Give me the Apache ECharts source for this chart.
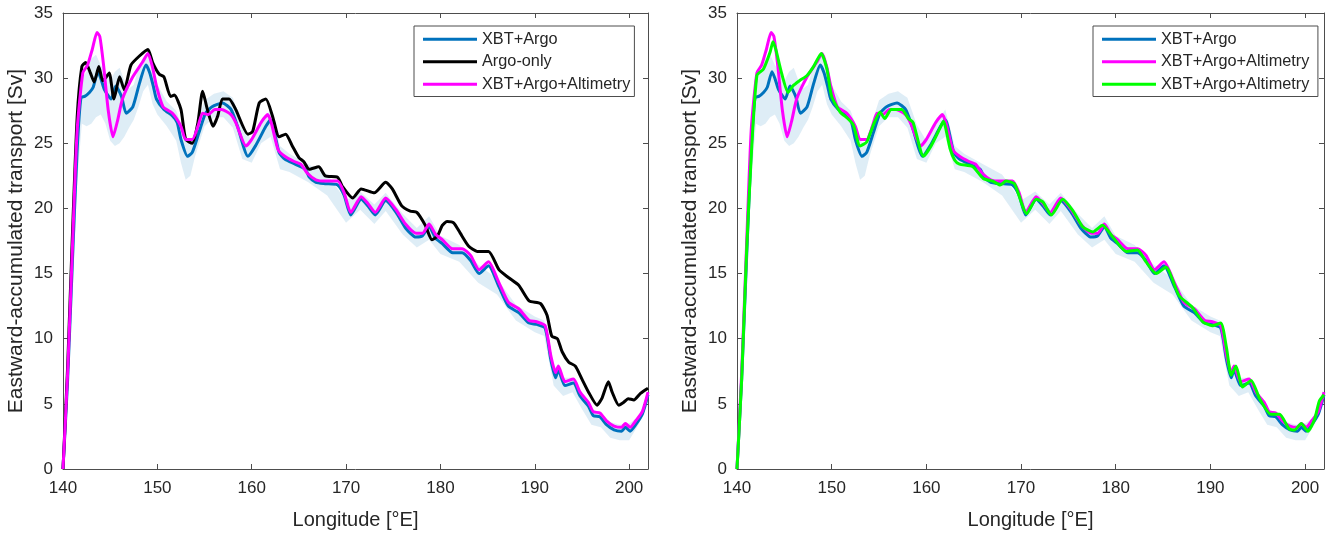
<!DOCTYPE html>
<html>
<head>
<meta charset="utf-8">
<script src="https://cdn.jsdelivr.net/npm/echarts@6/dist/echarts.min.js"></script>
<style>
html,body{margin:0;padding:0;background:#fff;}
#chart{width:1331px;height:535px;}
</style>
</head>
<body>
<div id="chart"></div>
<script>
// ---- DATA (longitude [°E], transport [Sv]) ----
const xbtArgo = [[140,0],[140.5,7],[141,16],[141.5,24.5],[141.9,28.5],[142.3,28.6],[142.8,28.9],[143.2,29.3],[143.7,30.5],[144.0,30.0],[144.4,29.1],[145.1,28.4],[145.6,29.4],[146.2,28.6],[146.7,27.3],[147.4,27.8],[148.1,29.6],[148.8,31.0],[149.2,30.4],[149.6,29.3],[149.9,28.4],[150.7,27.6],[151.6,27.1],[152.1,26.6],[152.5,25.3],[153.2,24.0],[153.7,24.3],[154.4,25.8],[155.1,27.3],[155.8,27.8],[156.9,28.1],[157.8,27.6],[158.5,26.3],[159.6,24.0],[160.4,24.8],[161.5,26.3],[162.0,26.8],[162.9,24.3],[163.5,23.8],[164.6,23.4],[165.7,23.0],[166.1,22.4],[166.8,22.0],[167.8,21.9],[169.1,21.8],[169.8,21.0],[170.5,19.5],[171.6,20.7],[172.3,20.2],[173.1,19.5],[174.2,20.6],[175.3,19.7],[176.3,18.5],[177.4,17.8],[178.1,17.9],[178.8,18.6],[179.5,17.7],[180.2,17.3],[181.3,16.6],[182.3,16.6],[183.2,16.0],[184.1,15.0],[185.1,15.6],[186.2,14.0],[187.2,12.5],[188.3,12.0],[189.4,11.2],[190.2,11.1],[191.1,10.8],[191.7,8.4],[192.2,7.0],[192.5,7.6],[193.2,6.4],[194.1,6.6],[194.8,5.6],[195.7,4.8],[196.2,4.1],[196.9,4.0],[197.6,3.4],[198.4,3.0],[199.2,2.9],[199.6,3.2],[200.1,2.9],[200.7,3.4],[201.4,4.2],[202,5.7]];

const argoOnly = [[140,0],[140.5,8],[141,18],[141.5,27],[142.0,30.9],[142.4,31.2],[142.9,30.4],[143.3,29.7],[143.8,30.9],[144.2,29.8],[144.5,30.0],[144.9,30.4],[145.4,28.4],[146.0,30.1],[146.5,29.1],[147.2,31.0],[148.1,31.7],[149.0,32.2],[149.5,31.2],[150.2,30.3],[150.7,30.1],[151.4,28.6],[151.8,28.7],[152.5,27.6],[153.0,25.3],[153.7,25.0],[154.3,26.6],[154.8,29.0],[155.3,27.6],[155.9,26.3],[156.4,27.1],[156.9,28.4],[157.6,28.4],[158.3,27.6],[159.6,25.7],[160.1,25.9],[160.8,28.1],[161.5,28.4],[162.2,27.1],[162.9,25.5],[163.6,25.7],[164.3,24.8],[165.0,23.9],[165.5,23.6],[166.1,23.0],[167.1,23.2],[167.8,22.5],[169.1,22.4],[169.6,21.7],[170.7,20.8],[171.6,21.5],[173.0,21.2],[174.2,22.0],[174.9,21.5],[175.9,20.2],[176.8,19.8],[177.5,19.7],[178.4,18.7],[179.1,17.6],[179.7,17.9],[180.2,18.7],[180.7,19.0],[181.4,18.9],[182.1,18.1],[183.0,17.1],[183.9,16.7],[185.1,16.7],[186.2,15.3],[187.2,14.7],[188.3,14.1],[189.4,12.9],[190.6,12.7],[191.3,11.8],[191.8,10.2],[192.4,10.0],[192.9,9.0],[193.6,8.2],[194.3,7.9],[195.0,6.9],[195.7,5.9],[196.6,4.9],[197.1,5.4],[197.8,6.7],[198.2,5.9],[198.9,4.9],[199.4,5.1],[199.9,5.4],[200.5,5.3],[201.2,5.8],[202,6.2]];

const xbtArgoAlt = [[140,0],[140.5,7.5],[141,17],[141.5,26],[142.1,30.4],[142.6,31.0],[143.1,32.2],[143.6,33.5],[143.9,33.2],[144.3,31.0],[144.8,27.5],[145.3,25.5],[145.8,26.8],[146.3,28.4],[147.4,30.1],[148.4,31.2],[149.0,31.9],[149.5,30.8],[149.9,29.4],[150.6,27.8],[151.6,27.3],[152.5,26.3],[153.0,25.3],[153.7,25.3],[154.3,26.3],[154.8,27.3],[155.4,27.2],[156.1,27.6],[156.8,27.6],[157.8,27.2],[158.3,26.6],[159.4,24.8],[160.0,25.3],[161.0,26.6],[161.7,27.2],[162.1,26.5],[162.8,24.5],[163.5,24.0],[164.5,23.6],[165.2,23.4],[165.9,22.7],[166.8,22.2],[167.8,22.1],[169.1,22.1],[169.8,21.2],[170.5,19.7],[171.6,20.9],[172.3,20.4],[173.1,19.7],[174.2,20.8],[175.3,19.9],[176.3,18.8],[177.4,18.1],[178.1,18.1],[178.8,18.8],[179.5,18.0],[180.2,17.6],[181.3,16.9],[182.3,16.9],[183.2,16.4],[184.1,15.3],[185.1,15.9],[186.2,14.3],[187.2,12.8],[188.3,12.3],[189.4,11.4],[190.2,11.3],[191.1,11.0],[191.7,8.7],[192.2,7.4],[192.5,7.9],[193.2,6.7],[194.1,6.9],[194.8,5.9],[195.7,5.1],[196.2,4.4],[196.9,4.3],[197.6,3.7],[198.4,3.3],[199.2,3.2],[199.6,3.5],[200.1,3.2],[200.7,3.7],[201.4,4.4],[202,5.9]];

const xbtArgoAltGreen = [[140,0],[140.5,7],[141,16.5],[141.5,24],[142.1,30.2],[142.8,30.7],[143.5,32.0],[143.8,32.8],[144.1,32.2],[144.7,30.4],[145.4,28.9],[145.9,29.4],[146.6,29.8],[147.4,30.2],[148.1,30.9],[148.9,31.9],[149.5,30.7],[150.0,28.6],[150.9,27.4],[151.7,26.9],[152.3,26.4],[153.0,24.8],[153.7,25.1],[154.4,26.4],[155.1,27.4],[155.6,26.9],[156.3,27.6],[157.4,27.6],[158.1,26.9],[158.6,26.6],[159.7,24.0],[160.5,24.8],[161.4,26.1],[161.8,26.7],[162.5,24.6],[163.0,23.7],[163.5,23.4],[164.9,23.2],[166.0,22.3],[167.0,22.1],[167.8,21.8],[168.4,22.1],[169.3,21.9],[170.6,19.6],[171.6,20.7],[172.3,20.5],[173.2,19.5],[174.4,20.7],[175.5,19.8],[176.5,18.6],[177.6,18.2],[178.6,18.7],[179.7,17.8],[181.1,16.7],[182.3,16.8],[183.2,15.9],[184.3,15.0],[185.3,15.5],[186.7,13.3],[188.1,12.4],[189.2,11.3],[190.2,11.0],[191.1,11.2],[191.7,9.3],[192.2,7.2],[192.7,7.9],[193.4,6.3],[194.3,6.8],[195.2,5.4],[196.4,4.2],[197.3,4.2],[198.3,3.1],[198.9,3.0],[199.6,3.5],[200.3,2.9],[201.0,3.8],[201.5,5.2],[202,5.7]];

// uncertainty band of XBT+Argo
const bandLon = [140,141,141.5,142,142.5,143,143.5,144,144.5,145,145.5,146,146.5,147,147.5,148,148.5,149,149.5,150,151,152,152.5,153,153.5,154,155,156,157,158,159,160,161,162,163,164,166,168,170,171.5,173,174.2,176,177.5,178.8,180,182,184,186,188,190,191,192,193,194,195,196,197,198,199,200,201,202];
const bandHi = [0.5,17.5,26,30,30.5,31.5,31.8,31,30.5,29.8,30.5,30.8,29.8,29.2,29.5,30.8,31.5,31.8,31,29.5,28.2,27.5,26.5,25.2,25.0,26.0,28.3,28.8,29.0,28.5,26.4,25.2,26.5,27.6,24.8,24.2,23.4,22.6,20.6,21.3,20.3,21.2,19.6,18.5,19.4,17.9,17.2,15.7,14.6,12.6,11.7,11.4,8.0,7.0,7.0,5.6,4.6,4.3,3.6,3.4,3.5,4.0,6.0];
const bandLo = [0,13,22,26.5,26.3,26.5,27.0,27.2,26.5,25.2,24.8,25.0,25.5,26.2,26.8,27.8,29.0,29.5,28.0,27.2,26.3,25.2,23.5,22.2,22.5,24.0,26.3,27.0,27.0,26.2,23.8,23.5,25.0,25.5,23.0,22.8,22.0,21.0,18.9,19.9,18.8,19.8,18.0,17.0,17.6,16.5,15.9,14.3,13.4,11.4,10.5,10.2,6.4,5.6,5.9,4.6,3.4,3.2,2.4,2.2,2.2,3.4,5.0];

const xName = 'Longitude [°E]';
const yName = 'Eastward-accumulated transport [Sv]';

// ---- STYLE ----
const FONT = '"Liberation Sans", Arial, Helvetica, sans-serif';
const TXT = '#262626';
const AX = '#4d4d4d';
const BLUE = '#0072BD', BLACK = '#000000', MAG = '#FF00FF', GREEN = '#00FF00';

function bandSeries(xi, yi) {
  return {
    type: 'custom', xAxisIndex: xi, yAxisIndex: yi, silent: true, z: 1,
    data: [[bandLon[0], bandLo[0]]],
    renderItem: function (params, api) {
      const pts = [];
      for (let i = 0; i < bandLon.length; i++) pts.push(api.coord([bandLon[i], bandHi[i]]));
      for (let i = bandLon.length - 1; i >= 0; i--) pts.push(api.coord([bandLon[i], bandLo[i]]));
      return { type: 'polygon', shape: { points: pts }, style: { fill: 'rgba(0,114,189,0.13)', stroke: null } };
    }
  };
}
function lineSeries(name, data, color, xi, yi, z) {
  return { type: 'line', name: name, data: data, xAxisIndex: xi, yAxisIndex: yi, z: z,
    showSymbol: false, symbol: 'none', smooth: 0.2, color: color,
    lineStyle: { color: color, width: 3 }, silent: true };
}
function xAx(grid, main) {
  return { type: 'value', gridIndex: grid, min: 140, max: 202, interval: 10,
    position: main ? 'bottom' : 'top',
    name: main ? xName : '', nameLocation: 'middle', nameGap: 41,
    nameTextStyle: { fontFamily: FONT, fontSize: 20, color: TXT },
    axisLine: { show: true, onZero: false, lineStyle: { color: AX, width: 1 } },
    axisTick: { show: true, inside: true, length: 5, lineStyle: { color: AX } },
    axisLabel: { show: main, margin: 11, fontFamily: FONT, fontSize: 17, color: TXT,
      formatter: v => (v % 10 === 0 ? String(v) : '') },
    splitLine: { show: false } };
}
function yAx(grid, main) {
  return { type: 'value', gridIndex: grid, min: 0, max: 35, interval: 5,
    position: main ? 'left' : 'right',
    name: main ? yName : '', nameLocation: 'middle', nameGap: 36,
    nameTextStyle: { fontFamily: FONT, fontSize: 21, color: TXT },
    axisLine: { show: true, onZero: false, lineStyle: { color: AX, width: 1 } },
    axisTick: { show: true, inside: true, length: 5, lineStyle: { color: AX } },
    axisLabel: { show: main, margin: 10, fontFamily: FONT, fontSize: 17, color: TXT },
    splitLine: { show: false } };
}
function legend(left, names) {
  return { left: left, top: 26, orient: 'vertical', selectedMode: false,
    data: names, icon: 'rect', itemWidth: 54, itemHeight: 3, itemGap: 6,
    padding: [5, 4, 4, 9], backgroundColor: '#fff', borderColor: AX, borderWidth: 1,
    textStyle: { fontFamily: FONT, fontSize: 16.3, color: TXT, lineHeight: 16.5 } };
}

const chart = echarts.init(document.getElementById('chart'), null, { renderer: 'canvas' });
chart.setOption({
  animation: false,
  backgroundColor: '#fff',
  grid: [
    { left: 63, top: 13, width: 585, height: 458 },
    { left: 737, top: 13, width: 587, height: 458 }
  ],
  xAxis: [xAx(0, true), xAx(0, false), xAx(1, true), xAx(1, false)],
  yAxis: [yAx(0, true), yAx(0, false), yAx(1, true), yAx(1, false)],
  legend: [
    legend(414, ['XBT+Argo', 'Argo-only', 'XBT+Argo+Altimetry']),
    legend(1093, ['XBT+Argo', 'XBT+Argo+Altimetry', 'XBT+Argo+Altimetry '])
  ],
  series: [
    bandSeries(0, 0),
    lineSeries('XBT+Argo', xbtArgo, BLUE, 0, 0, 3),
    lineSeries('Argo-only', argoOnly, BLACK, 0, 0, 4),
    lineSeries('XBT+Argo+Altimetry', xbtArgoAlt, MAG, 0, 0, 5),
    bandSeries(2, 2),
    lineSeries('XBT+Argo', xbtArgo, BLUE, 2, 2, 3),
    lineSeries('XBT+Argo+Altimetry', xbtArgoAlt, MAG, 2, 2, 4),
    lineSeries('XBT+Argo+Altimetry ', xbtArgoAltGreen, GREEN, 2, 2, 5)
  ]
});
</script>
</body>
</html>
